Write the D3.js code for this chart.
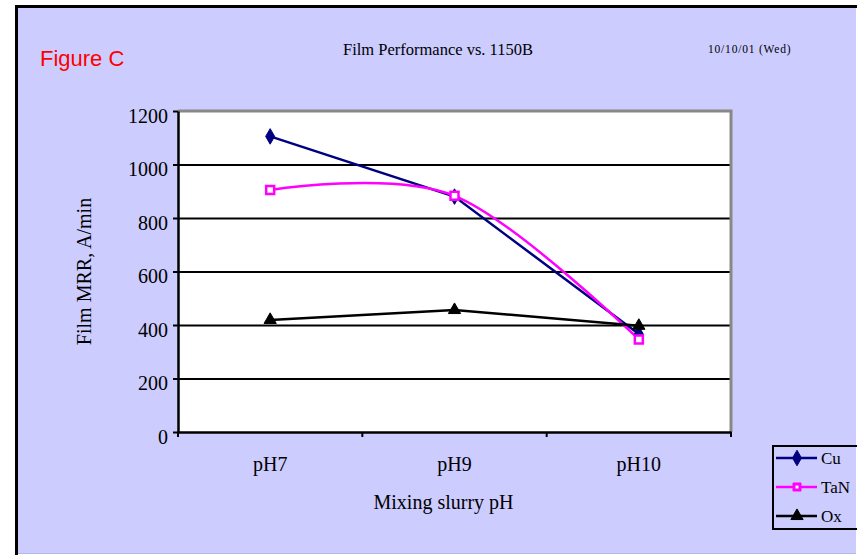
<!DOCTYPE html>
<html>
<head>
<meta charset="utf-8">
<script src="https://cdn.jsdelivr.net/npm/d3@7"></script>
<style>
  body { margin: 0; background: #fff; }
  svg { display: block; }
</style>
</head>
<body>
<div id="chart"></div>
<script>
// Chart data
const categories = ["pH7", "pH9", "pH10"];
const cuValues = [1105, 880, 366];
const tanValues = [905, 883, 346];
const oxValues = [419, 456, 397];
const yTicks = [0, 200, 400, 600, 800, 1000, 1200];
const seriesNames = ["Cu", "TaN", "Ox"];

const width = 857;
const height = 555;
const plot = { left: 178, right: 731, top: 111, bottom: 432 };
const serif = "'Liberation Serif', 'Times New Roman', serif";

const svg = d3.select("#chart")
  .append("svg")
  .attr("width", width)
  .attr("height", height);

// Outer panel
svg.append("rect")
  .attr("x", 17).attr("y", 7)
  .attr("width", 839).attr("height", 546)
  .attr("fill", "#ccccff");
svg.append("line")
  .attr("x1", 15).attr("x2", 857).attr("y1", 6.5).attr("y2", 6.5)
  .attr("stroke", "#000").attr("stroke-width", 3);
svg.append("line")
  .attr("x1", 16.5).attr("x2", 16.5).attr("y1", 5).attr("y2", 555)
  .attr("stroke", "#000").attr("stroke-width", 3);
svg.append("line")
  .attr("x1", 18).attr("x2", 856).attr("y1", 553.5).attr("y2", 553.5)
  .attr("stroke", "#b8b8e8").attr("stroke-width", 1);

// Header texts
svg.append("text")
  .attr("x", 40).attr("y", 66)
  .attr("font-family", "'Liberation Sans', Arial, sans-serif")
  .attr("font-size", 22)
  .attr("fill", "#ff0000")
  .text("Figure C");

svg.append("text")
  .attr("x", 438).attr("y", 55)
  .attr("text-anchor", "middle")
  .attr("font-family", serif)
  .attr("font-size", 16.5)
  .text("Film Performance vs. 1150B");

svg.append("text")
  .attr("x", 708).attr("y", 53)
  .attr("font-family", serif)
  .attr("font-size", 11.5)
  .attr("letter-spacing", 0.8)
  .text("10/10/01 (Wed)");

// Scales
const x = d3.scaleBand()
  .domain(categories)
  .range([plot.left, plot.right])
  .padding(0);

const y = d3.scaleLinear()
  .domain([0, 1200])
  .range([plot.bottom, plot.top]);

const cx = c => x(c) + x.bandwidth() / 2;

// Plot area
svg.append("rect")
  .attr("x", plot.left).attr("y", plot.top)
  .attr("width", plot.right - plot.left)
  .attr("height", plot.bottom - plot.top)
  .attr("fill", "#fff");

// Gridlines
svg.append("g")
  .attr("transform", `translate(${plot.left},0)`)
  .call(d3.axisLeft(y).tickValues(yTicks.filter(d => d > 0 && d < 1200))
    .tickSize(-(plot.right - plot.left)).tickFormat(""))
  .call(g => g.select(".domain").remove())
  .call(g => g.selectAll("line").attr("stroke", "#000").attr("stroke-width", 2));

// Plot border (top / right, gray)
svg.append("path")
  .attr("d", `M${plot.left},${plot.top}H${plot.right}V${plot.bottom}`)
  .attr("fill", "none")
  .attr("stroke", "#888")
  .attr("stroke-width", 3);

// Y axis
const yAxis = svg.append("g")
  .attr("transform", `translate(${plot.left},0)`)
  .call(d3.axisLeft(y).tickValues(yTicks).tickFormat(d3.format("d"))
    .tickSize(5).tickPadding(5).tickSizeOuter(0));
yAxis.select(".domain").attr("stroke", "#000").attr("stroke-width", 2.5);
yAxis.selectAll(".tick line").attr("stroke", "#000").attr("stroke-width", 2);
yAxis.selectAll(".tick text")
  .attr("font-family", serif)
  .attr("font-size", 20)
  .attr("fill", "#000")
  .attr("dy", "0.55em");

// X axis
const xAxis = svg.append("g")
  .attr("transform", `translate(0,${plot.bottom})`)
  .call(d3.axisBottom(x).tickSize(0).tickPadding(25).tickSizeOuter(0));
xAxis.select(".domain").attr("stroke", "#000").attr("stroke-width", 2.5);
xAxis.selectAll(".tick text")
  .attr("font-family", serif)
  .attr("font-size", 20)
  .attr("fill", "#000");

const boundaries = categories.map(c => x(c)).concat([x.range()[1]]);
svg.append("g")
  .selectAll("line")
  .data(boundaries)
  .join("line")
  .attr("x1", d => d).attr("x2", d => d)
  .attr("y1", plot.bottom).attr("y2", plot.bottom + 5)
  .attr("stroke", "#000").attr("stroke-width", 2);

// Axis titles
svg.append("text")
  .attr("x", (plot.left + plot.right) / 2 - 11)
  .attr("y", 509)
  .attr("text-anchor", "middle")
  .attr("font-family", serif)
  .attr("font-size", 20)
  .text("Mixing slurry pH");

svg.append("text")
  .attr("transform", `translate(91,${(plot.top + plot.bottom) / 2}) rotate(-90)`)
  .attr("text-anchor", "middle")
  .attr("font-family", serif)
  .attr("font-size", 20)
  .text("Film MRR, A/min");

// Series
const series = [
  { name: seriesNames[0], values: cuValues, color: "#000080", symbol: d3.symbolDiamond, size: 70, fill: "#000080", curve: d3.curveLinear },
  { name: seriesNames[1], values: tanValues, color: "#ff00ff", symbol: d3.symbolSquare, size: 64, fill: "#fff", curve: d3.curveCardinal.tension(0) },
  { name: seriesNames[2], values: oxValues, color: "#000000", symbol: d3.symbolTriangle, size: 65, fill: "#000", curve: d3.curveLinear }
];

series.forEach(s => {
  const line = d3.line()
    .x((d, i) => cx(categories[i]))
    .y(d => y(d))
    .curve(s.curve);
  svg.append("path")
    .datum(s.values)
    .attr("d", line)
    .attr("fill", "none")
    .attr("stroke", s.color)
    .attr("stroke-width", 2.5);
});

series.forEach(s => {
  svg.append("g")
    .selectAll("path")
    .data(s.values)
    .join("path")
    .attr("transform", (d, i) => `translate(${cx(categories[i])},${y(d)})`)
    .attr("d", d3.symbol(s.symbol, s.size))
    .attr("fill", s.fill)
    .attr("stroke", s.color)
    .attr("stroke-width", s.symbol === d3.symbolSquare ? 2.5 : 1);
});

// Legend
const legend = svg.append("g").attr("transform", "translate(773,446)");
legend.append("rect")
  .attr("x", 0).attr("y", 0)
  .attr("width", 120).attr("height", 83)
  .attr("fill", "none")
  .attr("stroke", "#000")
  .attr("stroke-width", 2);

const legendRow = legend.selectAll(".row")
  .data(series)
  .join("g")
  .attr("class", "row")
  .attr("transform", (d, i) => `translate(0,${12 + i * 29})`);

legendRow.append("line")
  .attr("x1", 3).attr("x2", 44)
  .attr("stroke", d => d.color)
  .attr("stroke-width", 2.5);

legendRow.append("path")
  .attr("transform", "translate(24,0)")
  .attr("d", d => d3.symbol(d.symbol, d.size)())
  .attr("fill", d => d.symbol === d3.symbolSquare ? d.color : d.fill)
  .attr("stroke", d => d.color)
  .attr("stroke-width", 1);

legendRow.filter(d => d.symbol === d3.symbolSquare)
  .append("rect")
  .attr("x", 22.5).attr("y", -1.5)
  .attr("width", 3).attr("height", 3)
  .attr("fill", "#fff");

legendRow.append("text")
  .attr("x", 48)
  .attr("dy", "0.35em")
  .attr("font-family", serif)
  .attr("font-size", 17)
  .text(d => d.name);
</script>
</body>
</html>
